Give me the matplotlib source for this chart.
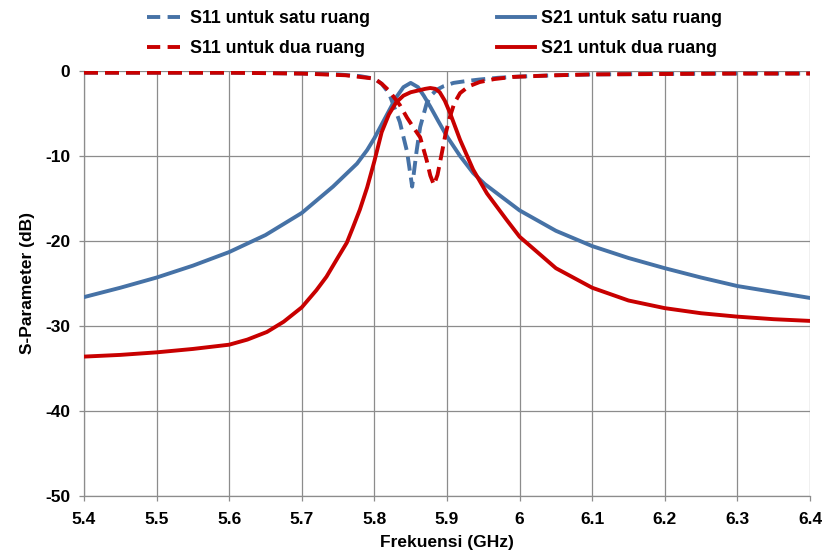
import matplotlib
matplotlib.use("Agg")
import matplotlib.pyplot as plt
from matplotlib.lines import Line2D

plt.rcParams['font.family'] = ['Liberation Sans', 'DejaVu Sans']
plt.rcParams['font.weight'] = 'bold'
plt.rcParams['axes.unicode_minus'] = False

BLUE = '#4672A6'
RED = '#C80000'

# S11 / S21 for single-cavity filter
f_s11_satu = [5.40, 5.50, 5.60, 5.70, 5.75, 5.78, 5.80, 5.81, 5.82, 5.835, 5.845,
              5.852, 5.858, 5.863, 5.872, 5.879, 5.886, 5.895, 5.909, 5.925, 5.945,
              5.97, 6.00, 6.05, 6.10, 6.20, 6.30, 6.40]
s11_satu = [-0.2, -0.2, -0.2, -0.3, -0.4, -0.6, -0.9, -1.5, -2.6, -6.0, -9.5,
            -13.6, -9.5, -6.6, -3.8, -2.8, -2.2, -1.8, -1.4, -1.2, -1.0,
            -0.8, -0.65, -0.5, -0.4, -0.35, -0.3, -0.3]

f_s21_satu = [5.40, 5.45, 5.50, 5.55, 5.60, 5.65, 5.70, 5.743, 5.776, 5.79, 5.80,
              5.81, 5.82, 5.83, 5.84, 5.85, 5.86, 5.868, 5.877, 5.888, 5.90, 5.918,
              5.936, 5.952, 5.969, 6.00, 6.05, 6.10, 6.15, 6.20, 6.25, 6.30, 6.35,
              6.40]
s21_satu = [-26.6, -25.5, -24.3, -22.9, -21.3, -19.3, -16.7, -13.6, -10.9, -9.3, -7.9,
            -6.3, -4.7, -3.1, -1.9, -1.4, -1.9, -2.9, -4.2, -5.9, -7.7, -10.0,
            -12.0, -13.3, -14.4, -16.4, -18.8, -20.6, -22.0, -23.2, -24.3, -25.3, -26.0,
            -26.7]

# S11 / S21 for two-cavity filter
f_s11_dua = [5.40, 5.50, 5.60, 5.70, 5.76, 5.80, 5.81, 5.82, 5.835, 5.845, 5.855,
             5.863, 5.872, 5.877, 5.882, 5.887, 5.893, 5.898, 5.904, 5.91, 5.918,
             5.93, 5.945, 5.965, 5.99, 6.05, 6.10, 6.20, 6.30, 6.40]
s11_dua = [-0.2, -0.2, -0.2, -0.3, -0.5, -0.9, -1.5, -2.3, -4.0, -5.5, -6.8,
           -7.8, -10.5, -12.3, -13.4, -12.2, -9.6, -7.4, -5.4, -3.8, -2.6,
           -1.8, -1.3, -0.95, -0.7, -0.5, -0.4, -0.35, -0.3, -0.3]

f_s21_dua = [5.40, 5.45, 5.50, 5.55, 5.60, 5.625, 5.652, 5.675, 5.70, 5.72, 5.734,
             5.75, 5.762, 5.77, 5.78, 5.79, 5.80, 5.81, 5.82, 5.83, 5.84, 5.85,
             5.86, 5.87, 5.877, 5.884, 5.89, 5.897, 5.904, 5.918, 5.936, 5.955,
             5.982, 6.00, 6.05, 6.10, 6.15, 6.20, 6.25, 6.30, 6.35, 6.40]
s21_dua = [-33.6, -33.4, -33.1, -32.7, -32.2, -31.6, -30.7, -29.5, -27.8, -25.8, -24.2,
           -21.9, -20.2, -18.5, -16.3, -13.7, -10.6, -7.2, -5.1, -3.7, -2.9, -2.5,
           -2.3, -2.1, -2.0, -2.1, -2.5, -3.5, -4.9, -8.1, -11.6, -14.4,
           -17.5, -19.5, -23.2, -25.5, -27.0, -27.9, -28.5, -28.9, -29.2, -29.4]

x_ticks = [5.4, 5.5, 5.6, 5.7, 5.8, 5.9, 6.0, 6.1, 6.2, 6.3, 6.4]
x_labels = ['5.4', '5.5', '5.6', '5.7', '5.8', '5.9', '6', '6.1', '6.2', '6.3', '6.4']
y_ticks = [0, -10, -20, -30, -40, -50]

W, H = 825, 552
fig = plt.figure(figsize=(W / 100, H / 100), dpi=100)
ax = fig.add_axes([84 / W, 1 - 496 / H, (810 - 84) / W, (496 - 71) / H])

lw = 2.8
dash = (0, (3.6, 1.8))
ax.plot(f_s11_satu, s11_satu, color=BLUE, lw=lw, linestyle=dash, zorder=3)
ax.plot(f_s21_satu, s21_satu, color=BLUE, lw=lw, zorder=3)
ax.plot(f_s11_dua, s11_dua, color=RED, lw=lw, linestyle=dash, zorder=4)
ax.plot(f_s21_dua, s21_dua, color=RED, lw=lw, zorder=4)

ax.set_xlim(5.4, 6.4)
ax.set_ylim(-50, 0)
ax.set_xticks(x_ticks)
ax.set_xticklabels(x_labels)
ax.set_yticks(y_ticks)
ax.grid(True, color='#8C8C8C', lw=0.9)
ax.set_axisbelow(True)
for side in ('top', 'right'):
    ax.spines[side].set_visible(False)
for side in ('left', 'bottom'):
    ax.spines[side].set_color('#8C8C8C')
    ax.spines[side].set_linewidth(0.9)
ax.tick_params(axis='both', direction='out', length=3.5, width=0.9, color='#8C8C8C',
               labelsize=12.5)
ax.tick_params(axis='x', pad=8)
ax.tick_params(axis='y', pad=6.5)
for lab in ax.get_xticklabels() + ax.get_yticklabels():
    lab.set_fontweight('bold')

ax.set_xlabel('Frekuensi (GHz)', fontsize=12.5, fontweight='bold', labelpad=6)
ax.set_ylabel('S-Parameter (dB)', fontsize=12.5, fontweight='bold', labelpad=7)

leg_dash = (0, (3.4, 1.9))
legend_font = {'weight': 'bold', 'size': 12.8}
col1 = fig.legend(
    [Line2D([], [], color=BLUE, lw=lw, linestyle=leg_dash),
     Line2D([], [], color=RED, lw=lw, linestyle=leg_dash)],
    ['S11 untuk satu ruang', 'S11 untuk dua ruang'],
    loc='upper left', bbox_to_anchor=(147 / W, 1 - 10 / H), frameon=False,
    prop=legend_font, handlelength=1.85, handletextpad=0.55,
    labelspacing=0.75, borderpad=0, borderaxespad=0)
col2 = fig.legend(
    [Line2D([], [], color=BLUE, lw=lw),
     Line2D([], [], color=RED, lw=lw)],
    ['S21 untuk satu ruang', 'S21 untuk dua ruang'],
    loc='upper left', bbox_to_anchor=(497 / W, 1 - 10 / H), frameon=False,
    prop=legend_font, handlelength=2.15, handletextpad=0.3,
    labelspacing=0.75, borderpad=0, borderaxespad=0)

fig.savefig('out.png', dpi=100, facecolor='white')
